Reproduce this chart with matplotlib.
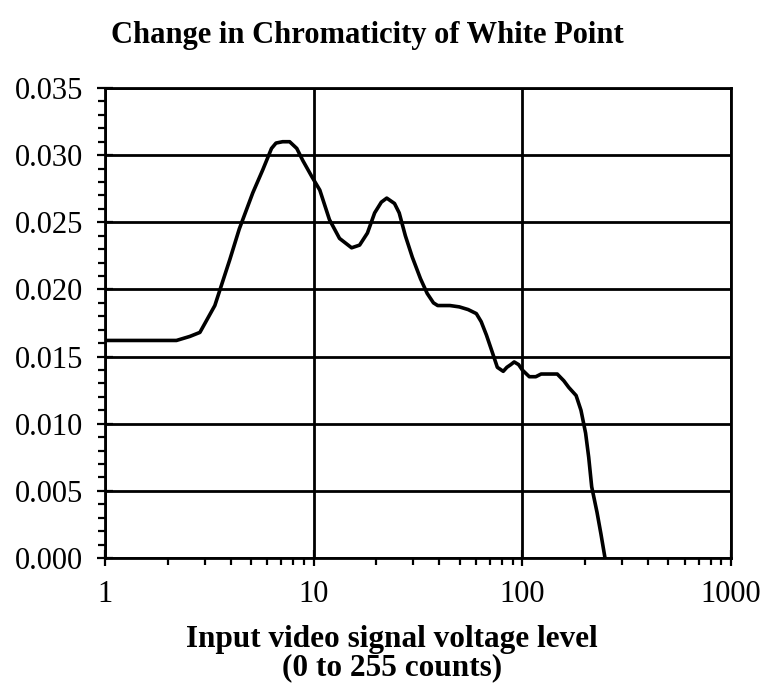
import matplotlib
matplotlib.use("Agg")
import matplotlib.pyplot as plt
from matplotlib.ticker import FixedLocator, NullFormatter, LogLocator

# Data
level = [1, 1.5, 2.2, 2.55, 2.85, 3.36, 3.96, 4.4, 5.11, 5.7, 6.28, 6.6, 7.1, 7.67,
         8.3, 8.87, 9.8, 10.7, 11.9, 13.3, 15.2, 16.6, 18.1, 19.6, 21.1, 22.4, 24.4,
         25.7, 27.5, 29.7, 32.5, 35.0, 37.5, 39.3, 45, 49.9, 55, 60.2, 63.5, 67.3,
         71.5, 75.9, 81.0, 84.3, 88, 91.4, 96, 100, 108, 116, 123, 135, 147, 158,
         167, 181, 191, 201, 208, 215, 228, 238, 249]
delta_uv = [0.0162, 0.0162, 0.0162, 0.0165, 0.0168, 0.0188, 0.0222, 0.0245, 0.0272,
            0.0289, 0.0305, 0.0309, 0.0310, 0.0310, 0.0305, 0.0296, 0.0284, 0.0274,
            0.0252, 0.0238, 0.0231, 0.0233, 0.0242, 0.0257, 0.0265, 0.0268, 0.0264,
            0.0257, 0.0240, 0.0224, 0.0208, 0.0197, 0.0190, 0.0188, 0.0188, 0.0187,
            0.0185, 0.0182, 0.0176, 0.0166, 0.0154, 0.0142, 0.0139, 0.0142, 0.0144,
            0.0146, 0.0144, 0.0140, 0.0135, 0.0135, 0.0137, 0.0137, 0.0137, 0.0132,
            0.0127, 0.0121, 0.0110, 0.0093, 0.0075, 0.0053, 0.0034, 0.0018, 0.0]
yticks = [0.0, 0.005, 0.010, 0.015, 0.020, 0.025, 0.030, 0.035]
ytick_labels = ["0.000", "0.005", "0.010", "0.015", "0.020", "0.025", "0.030", "0.035"]
xticks = [1, 10, 100, 1000]
xtick_labels = ["1", "10", "100", "1000"]

plt.rcParams['font.family'] = ['Liberation Serif', 'DejaVu Serif']

fig = plt.figure(figsize=(7.63, 6.92), dpi=100)
ax = fig.add_axes([105/763, (692-558)/692, (731-105)/763, (558-88)/692])

ax.plot(level, delta_uv, color='black', lw=2.6, solid_joinstyle='round',
        solid_capstyle='round')

ax.set_xscale('log')
ax.set_xlim(1, 1000)
ax.set_ylim(0, 0.035)
ax.set_xticks(xticks)
ax.set_xticklabels(xtick_labels)
ax.xaxis.set_minor_locator(LogLocator(base=10, subs=range(2, 10)))
ax.xaxis.set_minor_formatter(NullFormatter())
ax.set_yticks(yticks)
ax.set_yticklabels(ytick_labels)
ax.yaxis.set_minor_locator(FixedLocator([i * 0.001 for i in range(36)]))

ax.grid(True, which='major', color='black', lw=2.0)
for s in ax.spines.values():
    s.set_linewidth(2.0)
ax.tick_params(which='major', direction='inout', length=12, width=1.6, labelsize=22)
ax.tick_params(axis='y', which='major', pad=10)
ax.tick_params(axis='x', which='major', pad=10)
ax.tick_params(which='minor', direction='out', length=5, width=1.6)

fig.text(367/763, 1 - 35/692, "Change in Chromaticity of White Point",
         ha='center', va='center', fontsize=22, fontweight='bold')
fig.text(392/763, 1 - 640/692, "Input video signal voltage level",
         ha='center', va='center', fontsize=22.5, fontweight='bold')
fig.text(392/763, 1 - 668/692, "(0 to 255 counts)",
         ha='center', va='center', fontsize=22.5, fontweight='bold')

fig.savefig("out.png", dpi=100)
